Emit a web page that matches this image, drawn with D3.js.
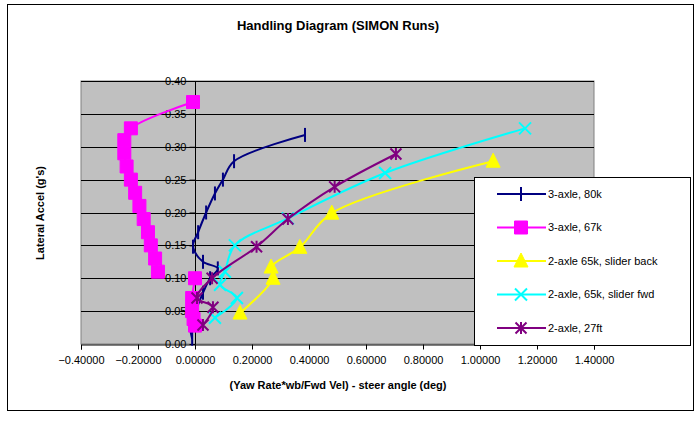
<!DOCTYPE html>
<html>
<head>
<meta charset="utf-8">
<script src="https://cdn.jsdelivr.net/npm/d3@7"></script>
<style>
  body { margin: 0; background: #fff; }
  svg { font-family: 'Liberation Sans', Arial, sans-serif; }
</style>
</head>
<body>
<div id="chart"></div>
<script>
// values: [yaw term, lateral accel]; null = gap in the line
let axle3_80k = [
  [-0.01, 0.008], [-0.018, 0.036], [0.007, 0.056], [0.028, 0.078], [0.053, 0.1],
  [0.08, 0.115], [0.028, 0.125], [-0.007, 0.148], [0.011, 0.17], [0.039, 0.2],
  [0.07, 0.229], [0.098, 0.25], [0.137, 0.278], [0.386, 0.318]
]
let axle3_67k = [
  [0.0, 0.028], [-0.005, 0.038], [-0.01, 0.05], [-0.01, 0.07], [0.0, 0.1],
  null,
  [-0.13, 0.11], [-0.14, 0.13], [-0.155, 0.15], [-0.165, 0.17], [-0.18, 0.19],
  [-0.195, 0.21], [-0.21, 0.23], [-0.225, 0.25], [-0.24, 0.27], [-0.248, 0.29],
  [-0.248, 0.31], [-0.225, 0.328], [-0.007, 0.368]
]
let axle2_back = [
  [0.158, 0.047], [0.274, 0.1], [0.267, 0.117], [0.368, 0.147], [0.48, 0.199], [1.046, 0.278]
]
let axle2_fwd = [
  [0.07, 0.04], [0.147, 0.07], [0.088, 0.09], [0.105, 0.11], [0.14, 0.15],
  [0.326, 0.191], [0.667, 0.26], [1.158, 0.328]
]
let axle2_27ft = [
  [0.028, 0.029], [0.063, 0.056], [0.007, 0.07], [0.06, 0.1], [0.216, 0.148],
  [0.326, 0.19], [0.49, 0.239], [0.705, 0.289]
]

let seriesNames = ['3-axle, 80k', '3-axle, 67k', '2-axle 65k, slider back', '2-axle, 65k, slider fwd', '2-axle, 27ft']
let seriesValues = [axle3_80k, axle3_67k, axle2_back, axle2_fwd, axle2_27ft]
let colors = ['#000080', '#ff00ff', '#ffff00', '#00ffff', '#800080']
let markers = ['bar', 'square', 'triangle', 'cross', 'star']

let xTicks = [-0.4, -0.2, 0, 0.2, 0.4, 0.6, 0.8, 1.0, 1.2, 1.4]
let yTicks = [0, 0.05, 0.1, 0.15, 0.2, 0.25, 0.3, 0.35, 0.4]

let width = 699
let height = 424

let svg = d3.select('#chart')
  .append('svg')
  .attr('width', width)
  .attr('height', height)

// chart border
svg.append('rect')
  .attr('x', 7.5)
  .attr('y', 4.5)
  .attr('width', 686)
  .attr('height', 406)
  .attr('fill', 'white')
  .attr('stroke', 'black')

let xScale = d3.scaleLinear().domain([-0.4, 1.4]).range([81, 594])
let yScale = d3.scaleLinear().domain([0, 0.4]).range([344, 81])

// plot area
svg.append('rect')
  .attr('x', xScale(-0.4))
  .attr('y', yScale(0.4))
  .attr('width', xScale(1.4) - xScale(-0.4))
  .attr('height', yScale(0) - yScale(0.4))
  .attr('fill', '#c0c0c0')
  .attr('stroke', '#808080')

svg.selectAll('.grid')
  .data(yTicks.slice(1))
  .enter()
  .append('line')
  .attr('x1', xScale(-0.4))
  .attr('x2', xScale(1.4))
  .attr('y1', d => Math.round(yScale(d)) + 0.5)
  .attr('y2', d => Math.round(yScale(d)) + 0.5)
  .attr('stroke', 'black')

// axes
svg.append('g')
  .attr('transform', `translate(0,${Math.round(yScale(0)) + 0.5})`)
  .call(d3.axisBottom(xScale).tickValues(xTicks).tickFormat(d3.format('.5f')).tickSize(5).tickPadding(7))

let yAxis = svg.append('g')
  .attr('transform', `translate(${Math.round(xScale(0)) + 0.5},0)`)
  .call(d3.axisLeft(yScale).tickValues(yTicks).tickFormat(d3.format('.2f')).tickSize(6).tickPadding(3))

svg.selectAll('.domain').attr('stroke', 'black')
svg.selectAll('.tick line').attr('stroke', 'black')
svg.selectAll('.tick text')
  .attr('font-size', 11)
  .attr('fill', 'black')
  .attr('font-family', "'Liberation Sans', Arial, sans-serif")
yAxis.select('.domain').attr('d', `M0,${yScale(0.4)}V${yScale(0)}`)

// series
let line = d3.line()
  .defined(d => d !== null)
  .x(d => xScale(d[0]))
  .y(d => yScale(d[1]))
  .curve(d3.curveCatmullRom)

function markerPath(type) {
  if (type === 'bar') return 'M0,-7V7'
  if (type === 'square') return 'M-6.5,-6.5H6.5V6.5H-6.5Z'
  if (type === 'triangle') return 'M0,-8L7,6H-7Z'
  if (type === 'cross') return 'M-6,-6L6,6M-6,6L6,-6'
  return 'M0,-6V6M-5.5,-5.5L5.5,5.5M-5.5,5.5L5.5,-5.5'
}

function drawMarker(g, type, color) {
  let filled = type === 'square' || type === 'triangle'
  g.append('path')
    .attr('d', markerPath(type))
    .attr('fill', filled ? color : 'none')
    .attr('stroke', color)
    .attr('stroke-width', filled ? 1 : 2)
}

seriesValues.forEach((values, i) => {
  let g = svg.append('g')
  g.append('path')
    .datum(values)
    .attr('d', line)
    .attr('fill', 'none')
    .attr('stroke', colors[i])
    .attr('stroke-width', 2)

  g.selectAll('.marker')
    .data(values.filter(d => d !== null))
    .enter()
    .append('g')
    .attr('transform', d => `translate(${xScale(d[0])},${yScale(d[1])})`)
    .each(function() {
      drawMarker(d3.select(this), markers[i], colors[i])
    })
})

// legend
let legend = svg.append('g')
legend.append('rect')
  .attr('x', 474.5)
  .attr('y', 177.5)
  .attr('width', 216)
  .attr('height', 168)
  .attr('fill', 'white')
  .attr('stroke', 'black')

seriesNames.forEach((name, i) => {
  let ly = 194 + i * 33.5
  let item = legend.append('g').attr('transform', `translate(0,${ly})`)
  item.append('line')
    .attr('x1', 497)
    .attr('x2', 546)
    .attr('stroke', colors[i])
    .attr('stroke-width', 2)
  let m = item.append('g').attr('transform', 'translate(521,0)')
  drawMarker(m, markers[i], colors[i])
  item.append('text')
    .attr('x', 548)
    .attr('y', 0)
    .attr('dy', '0.35em')
    .attr('font-size', 11)
    .text(name)
})

// titles
svg.append('text')
  .attr('x', 338)
  .attr('y', 25)
  .attr('dy', '0.35em')
  .attr('text-anchor', 'middle')
  .attr('font-size', 13)
  .attr('font-weight', 'bold')
  .text('Handling Diagram (SIMON Runs)')

svg.append('text')
  .attr('x', 338)
  .attr('y', 385)
  .attr('dy', '0.35em')
  .attr('text-anchor', 'middle')
  .attr('font-size', 11)
  .attr('font-weight', 'bold')
  .text('(Yaw Rate*wb/Fwd Vel) - steer angle (deg)')

svg.append('text')
  .attr('transform', 'translate(40,213) rotate(-90)')
  .attr('dy', '0.35em')
  .attr('text-anchor', 'middle')
  .attr('font-size', 11)
  .attr('font-weight', 'bold')
  .text("Lateral Accel (g's)")
</script>
</body>
</html>
